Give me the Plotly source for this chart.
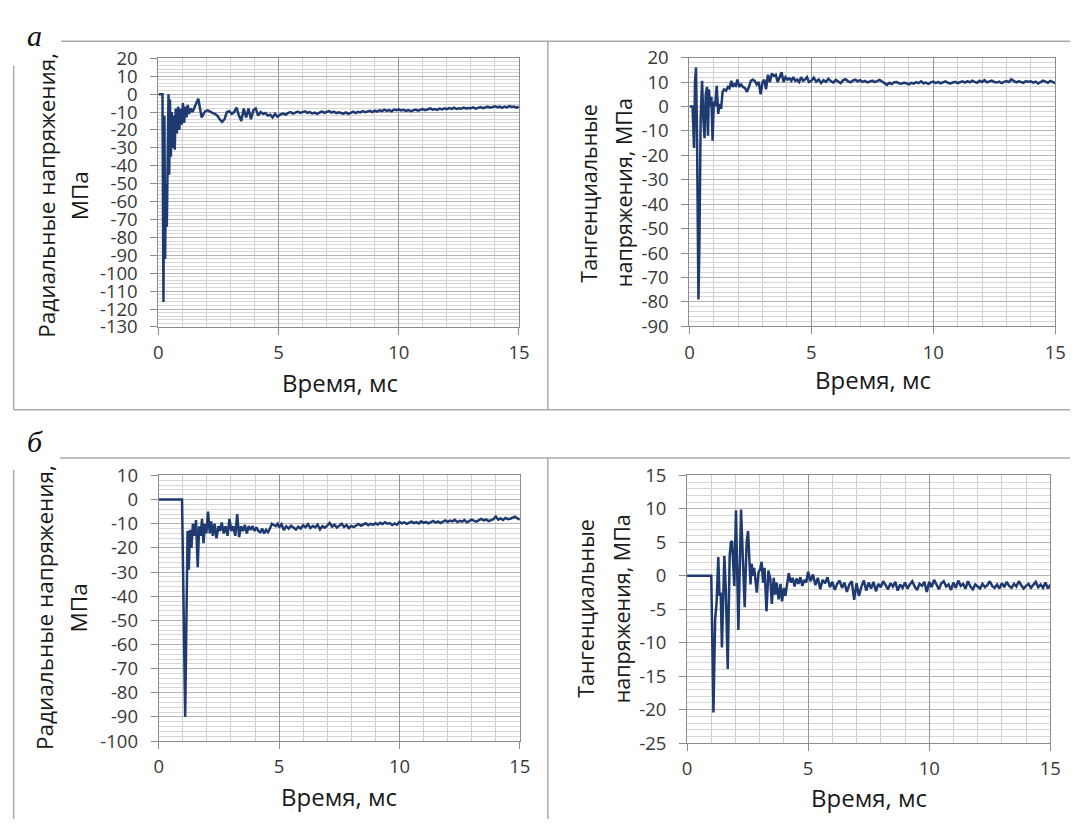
import numpy as np
import plotly.graph_objects as go

# ---------------- DATA ----------------
# Panel а, radial stress (early transient: time, value)
a_rad_t = [0, 0.17, 0.21, 0.25, 0.28, 0.31, 0.35, 0.38, 0.42, 0.45, 0.48, 0.52, 0.56, 0.60, 0.64, 0.68,
           0.72, 0.77, 0.82, 0.87, 0.92, 0.97, 1.02, 1.07, 1.12, 1.17, 1.22, 1.28, 1.35, 1.42, 1.50, 1.58,
           1.66, 1.73, 1.80, 1.88, 1.95, 2.05, 2.15, 2.25, 2.35, 2.45, 2.55, 2.65, 2.75, 2.85, 2.95, 3.05,
           3.15, 3.25, 3.35, 3.45, 3.55, 3.65, 3.75, 3.85, 3.95, 4.05, 4.15, 4.25, 4.35, 4.45, 4.55, 4.65,
           4.75, 4.85, 4.95]
a_rad_v = [0, 0, -116, -12, -92, -50, -74, -28, 0, -45, -3, -35, -10, -30, -12, -31,
           -8, -22, -7, -20, -8, -17, -5, -16, -7, -13, -6, -11, -8, -10, -7, -5,
           -2.5, -8, -13, -11, -9.5, -9, -10, -10.5, -11, -12, -14, -15.5, -14, -10, -9.5, -11,
           -10, -7.5, -12, -15, -8, -13, -8, -14, -9, -8, -12, -10, -11, -10.5, -12, -11.5,
           -13, -11, -12.5]
# tail: values every 0.1 ms from 5.0 to 15.0
a_rad_tail = [-12.0, -11.2, -10.8, -11.5, -10.4, -10.0, -10.9, -10.2, -9.8, -10.5,
              -10.1, -9.6, -10.4, -10.0, -10.8, -10.3, -11.0, -10.2, -9.7, -10.4,
              -10.0, -9.5, -10.3, -9.8, -10.6, -10.1, -10.5, -10.9, -10.2, -11.0,
              -10.4, -9.8, -10.6, -9.9, -10.2, -9.5, -10.1, -9.7, -9.3, -10.0,
              -9.2, -9.8, -9.0, -9.5, -8.7, -9.3, -8.9, -9.6, -8.6, -9.0,
              -8.5, -9.1, -8.8, -9.4, -8.9, -9.5, -9.0, -8.6, -9.2, -8.7,
              -8.3, -8.9, -8.4, -8.0, -8.7, -8.3, -8.8, -8.1, -8.5, -7.9,
              -8.4, -7.8, -8.2, -7.6, -8.3, -7.9, -8.1, -7.5, -8.0, -7.7,
              -7.9, -7.4, -8.1, -7.6, -7.2, -7.8, -7.3, -7.0, -7.6, -7.1,
              -6.8, -7.3, -7.0, -7.6, -6.9, -7.4, -6.7, -7.2, -6.9, -7.5,
              -7.0]

# Panel а, tangential stress
a_tan_t = [0, 0.13, 0.19, 0.23, 0.27, 0.31, 0.37, 0.41, 0.46, 0.52, 0.57, 0.62, 0.67, 0.72, 0.76, 0.80,
           0.85, 0.90, 0.95, 1.00, 1.05, 1.12, 1.18, 1.24, 1.30, 1.36, 1.42, 1.50, 1.58, 1.64, 1.72, 1.78,
           1.84, 1.90, 1.97, 2.04, 2.12, 2.20, 2.28, 2.36, 2.44, 2.52, 2.60, 2.68, 2.76, 2.84, 2.92, 3.00,
           3.07, 3.14, 3.22, 3.30, 3.38, 3.46, 3.54, 3.62, 3.70, 3.78, 3.86, 3.94, 4.02, 4.10, 4.18, 4.26,
           4.34, 4.42, 4.50, 4.58, 4.66, 4.74, 4.82, 4.90]
a_tan_v = [0, 0, -17, 10, 16, -10, -79, -56, -5, 10.5, -5, -13, 5, 8, -12, 7,
           0, 4, -14, 2, 0, 8.5, -3, 1, -1, 6, 7, 6.5, 8, 7.5, 10.5, 8,
           9, 8.5, 11, 8, 9, 8, 7.5, 6, 8, 10.5, 11, 10.5, 9, 10, 5, 10,
           11, 7, 13, 10, 13.5, 12.5, 13, 10, 12, 14, 10, 12, 11, 11.5, 10.5, 12,
           10.5, 11, 10, 12, 10.5, 11, 12, 10]
a_tan_tail = [10.5, 11.8, 10.2, 11.0, 9.6, 10.8, 10.1, 11.3, 10.4, 9.8,
              10.9, 10.2, 9.6, 10.7, 11.2, 10.4, 9.9, 10.6, 11.0, 10.3,
              10.8, 10.1, 10.5, 9.9, 10.3, 10.6, 10.0, 10.4, 10.9, 10.2,
              9.4, 8.8, 9.7, 9.2, 9.9, 10.0, 9.5, 9.3, 9.8, 9.6,
              9.1, 9.7, 9.4, 10.0, 9.6, 10.3, 9.5, 9.8, 9.3, 9.9,
              10.2, 9.6, 10.1, 9.5, 9.9, 10.3, 9.7, 9.4, 9.8, 10.1,
              9.6, 10.0, 10.3, 9.8, 10.4, 9.9, 10.6, 10.1, 9.7, 10.5,
              10.0, 10.8, 9.9, 10.3, 10.6, 10.0, 9.8, 10.2, 9.6, 10.1,
              10.4, 10.0, 11.1, 10.5, 9.9, 10.3, 10.0, 9.7, 10.4, 10.1,
              10.3, 9.8, 10.2, 9.4, 10.0, 10.6, 10.2, 9.7, 10.5, 10.0,
              9.6]

# Panel б, radial stress
b_rad_t = [0, 0.97, 1.10, 1.20, 1.25, 1.30, 1.36, 1.42, 1.48, 1.55, 1.62, 1.68, 1.74, 1.80, 1.86, 1.92,
           1.98, 2.05, 2.12, 2.18, 2.25, 2.32, 2.40, 2.48, 2.55, 2.62, 2.70, 2.78, 2.86, 2.94, 3.02, 3.10,
           3.18, 3.26, 3.34, 3.42, 3.50, 3.58, 3.66, 3.74, 3.82, 3.90, 3.98, 4.06, 4.14, 4.22, 4.30, 4.38,
           4.46, 4.54, 4.62, 4.70, 4.78, 4.86, 4.94]
b_rad_v = [0, 0, -90, -13, -29, -12.5, -20, -10, -15, -8.5, -28, -11, -15, -8, -18, -10,
           -14, -5, -14, -9, -15, -10, -16, -11, -13, -9.5, -14, -11, -15, -8, -13, -11,
           -15, -6, -15.5, -11, -13, -10.5, -14, -11, -12.5, -11, -13, -11.5, -13, -13.5, -12, -14,
           -12.5, -13.5, -12, -10, -10.5, -11, -10]
b_rad_tail = [-11.5, -10.2, -12.6, -11.0, -12.0, -10.8, -11.8, -12.4, -11.2, -12.0,
              -10.6, -11.4, -10.2, -11.8, -10.9, -11.5, -10.4, -12.3, -11.0, -11.6,
              -10.8, -9.6, -11.2, -10.4, -11.6, -10.7, -10.0, -11.3, -10.5, -11.8,
              -10.9, -11.4, -10.6, -10.1, -10.8, -10.3, -9.8, -10.6, -10.0, -10.4,
              -9.8, -10.3, -9.6, -10.1, -9.4, -10.0, -9.7, -10.5, -9.9, -10.4,
              -9.2, -9.8, -9.4, -10.0, -9.5, -9.1, -9.7, -9.3, -9.9, -9.0,
              -9.6, -9.2, -9.8, -9.4, -8.8, -9.5, -9.0, -9.7, -9.1, -8.6,
              -9.2, -8.7, -9.0, -8.4, -9.3, -8.8, -9.1, -8.5, -9.4, -8.9,
              -8.3, -8.8, -9.1, -8.5, -8.0, -8.6, -8.2, -8.9, -8.4, -8.1,
              -7.0, -8.3, -7.8, -8.4, -7.6, -8.1, -7.9, -7.4, -7.1, -7.8,
              -8.3]

# Panel б, tangential stress
b_tan_t = [0, 1.00, 1.09, 1.16, 1.22, 1.29, 1.34, 1.39, 1.44, 1.54, 1.60, 1.68, 1.76, 1.81, 1.86, 1.95,
           2.02, 2.12, 2.23, 2.32, 2.38, 2.46, 2.52, 2.58, 2.62, 2.67, 2.72, 2.77, 2.82, 2.88, 2.95, 3.02,
           3.08, 3.14, 3.20, 3.28, 3.36, 3.44, 3.50, 3.58, 3.64, 3.70, 3.78, 3.86, 3.92, 4.00, 4.06, 4.14,
           4.20, 4.28, 4.36, 4.44, 4.52, 4.60, 4.68, 4.76, 4.84, 4.92]
b_tan_v = [0, 0, -20.4, -6.5, -4, 2.8, -3, -2.5, -10.7, 3.0, -2, -13.9, 3, 5.0, 5.2, -1.5,
           9.8, -8.1, 9.9, -1, -4.7, 5, 6.7, 2, -1.3, 1.8, 0, 1.2, -0.5, -2.5, 0.5, 1,
           2.1, -1, 1.2, -5.3, 0.8, -0.5, -4.2, -0.3, -2.8, -1, -3.5, -1.2, -3.8, -1.8, -3, -0.5,
           0.4, -1, -0.3, -1.6, -0.4, -1.2, -0.2, -1.5, -0.6, -1.0]
b_tan_tail = [0.6, -0.8, 0.2, -1.4, -0.3, -2.0, -0.6, -1.1, -0.2, -1.7,
              -0.9, -2.1, -1.2, -0.7, -1.8, -1.0, -2.4, -1.3, -0.8, -3.6,
              -1.1, -3.0, -1.6, -0.7, -2.2, -1.0, -1.9, -0.9, -2.3, -1.2,
              -1.7, -0.8, -1.4, -2.0, -1.1, -1.6, -0.9, -2.2, -1.3, -1.8,
              -1.0, -1.9, -1.3, -0.8, -1.6, -2.1, -1.2, -1.5, -0.9, -2.4,
              -0.9, -1.7, -0.6, -1.4, -2.0, -1.1, -0.8, -1.6, -1.3, -2.1,
              -1.0, -1.8, -0.7, -1.5, -1.2, -1.9, -0.8, -1.6, -2.0, -1.3,
              -1.6, -1.9, -1.2, -1.7, -1.4, -0.8, -1.5, -1.8, -1.3, -1.9,
              -1.1, -1.7, -0.9, -1.5, -1.8, -1.2, -1.6, -0.8, -1.4, -1.9,
              -1.5, -1.2, -1.8, -1.4, -0.9, -1.7, -1.3, -1.8, -1.0, -1.9,
              -1.3]

tail_time = [(50 + i) / 10 for i in range(101)]  # 5.0 ... 15.0 ms sampling grid

x_ticks = [0, 5, 10, 15]
a_rad_yticks = [20, 10, 0, -10, -20, -30, -40, -50, -60, -70, -80, -90, -100, -110, -120, -130]
a_tan_yticks = [20, 10, 0, -10, -20, -30, -40, -50, -60, -70, -80, -90]
b_rad_yticks = [10, 0, -10, -20, -30, -40, -50, -60, -70, -80, -90, -100]
b_tan_yticks = [15, 10, 5, 0, -5, -10, -15, -20, -25]

x_title = "Время, мс"
rad_title = ["Радиальные напряжения,", "МПа"]
tan_title = ["Тангенциальные", "напряжения, МПа"]
panel_labels = ["а", "б"]

# ---------------- FIGURE ----------------
W, H = 1081, 830
LINE = "#1f3a70"
FONT = "Open Sans"

def px(x):
    return x / W

def py(y):
    return 1 - y / H

fig = go.Figure()

series = [
    (a_rad_t, a_rad_v, a_rad_tail, "x", "y"),
    (a_tan_t, a_tan_v, a_tan_tail, "x2", "y2"),
    (b_rad_t, b_rad_v, b_rad_tail, "x3", "y3"),
    (b_tan_t, b_tan_v, b_tan_tail, "x4", "y4"),
]
for t, v, tail, xa, ya in series:
    fig.add_trace(go.Scatter(x=list(t) + tail_time, y=list(v) + tail,
                             mode="lines", line=dict(color=LINE, width=2.5),
                             xaxis=xa, yaxis=ya, showlegend=False, hoverinfo="skip"))

# plot-area pixel boxes: (left, right, top, bottom)
boxes = [
    (155.7, 521.7, 45.7, 322.7),
    (694.7, 1066.0, 45.0, 322.0),
    (156.0, 522.6, 475.8, 749.7),
    (692.3, 1061.0, 475.8, 751.8),
]
yinfo = [
    (a_rad_yticks, [-130, 20], 2),
    (a_tan_yticks, [-90, 20], 2),
    (b_rad_yticks, [-100, 10], 2),
    (b_tan_yticks, [-25, 15], 1),
]

AXC = "#8c8c8c"
TICKFONT = dict(family=FONT, size=18.5, color="#383838")
for i, ((l, r, t, b), (yt, yr, ymin)) in enumerate(zip(boxes, yinfo)):
    sfx = "" if i == 0 else str(i + 1)
    fig.update_layout(**{
        "xaxis" + sfx: dict(
            domain=[px(l), px(r)], anchor="y" + sfx, range=[0, 15],
            tickmode="array", tickvals=x_ticks, ticktext=[str(v) for v in x_ticks],
            showgrid=True, gridcolor="#959595", gridwidth=1,
            minor=dict(tickmode="linear", tick0=0, dtick=1, showgrid=True,
                       gridcolor="#cfcfcf", gridwidth=1, ticks=""),
            showline=True, linecolor=AXC, linewidth=1, mirror=True,
            ticks="outside", ticklen=7, tickcolor=AXC, zeroline=False,
            tickfont=TICKFONT, ticklabelstandoff=2, fixedrange=True,
        ),
        "yaxis" + sfx: dict(
            domain=[py(b), py(t)], anchor="x" + sfx, range=yr,
            tickmode="array", tickvals=yt, ticktext=[str(v) for v in yt],
            showgrid=True, gridcolor="#b4b4b4", gridwidth=1,
            minor=dict(tickmode="linear", tick0=0, dtick=ymin, showgrid=True,
                       gridcolor="#d6d6d6", gridwidth=1, ticks=""),
            showline=True, linecolor=AXC, linewidth=1, mirror=True,
            ticks="outside", ticklen=7, tickcolor=AXC, zeroline=False,
            tickfont=TICKFONT, ticklabelstandoff=9, fixedrange=True,
        ),
    })

annotations = []
XFONT = dict(family=FONT, size=24, color="#1a1a1a")
# x titles
for xc, yc in [(340, 380), (881, 377), (339.3, 807), (877, 808)]:
    annotations.append(dict(x=px(xc), y=py(yc), xref="paper", yref="paper", text=x_title,
                            showarrow=False, font=XFONT, xanchor="center", yanchor="middle"))
# y titles
ytitles = [
    (rad_title[0], 42, 187, 22.5), (rad_title[1], 75, 187, 22.5),
    (tan_title[0], 592, 185, 21.5), (tan_title[1], 628, 184, 21.5),
    (rad_title[0], 40, 612, 22.5), (rad_title[1], 75, 612, 22.5),
    (tan_title[0], 589, 613, 21.5), (tan_title[1], 626, 613, 21.5),
]
for txt, xc, yc, fs in ytitles:
    annotations.append(dict(x=px(xc), y=py(yc), xref="paper", yref="paper", text=txt,
                            showarrow=False, font=dict(family=FONT, size=fs, color="#1a1a1a"),
                            textangle=-90, xanchor="center", yanchor="middle"))
# panel letters
for txt, xc, yc in [(panel_labels[0], 30, 22), (panel_labels[1], 30, 441)]:
    annotations.append(dict(x=px(xc), y=py(yc), xref="paper", yref="paper", text="<i>" + txt + "</i>",
                            showarrow=False, font=dict(family="Liberation Serif", size=30, color="#111"),
                            xanchor="center", yanchor="middle"))

FR = dict(color="#ababab", width=1.5)
shapes = []
def seg(x0, y0, x1, y1):
    shapes.append(dict(type="line", xref="paper", yref="paper",
                       x0=px(x0), y0=py(y0), x1=px(x1), y1=py(y1), line=FR))
# frame а
seg(57, 28, 1081, 28)
seg(8.8, 53, 8.8, 408)
seg(8.8, 408, 1081, 408)
seg(551, 28, 551, 408)
# frame б
seg(56, 457.7, 1081, 457.7)
seg(8.8, 470, 8.8, 830)
seg(551, 457.7, 551, 830)

fig.update_layout(width=W, height=H, margin=dict(l=0, r=0, t=0, b=0),
                  paper_bgcolor="white", plot_bgcolor="white",
                  annotations=annotations, shapes=shapes, showlegend=False)

fig.write_html("out.html", config={"displayModeBar": False})
